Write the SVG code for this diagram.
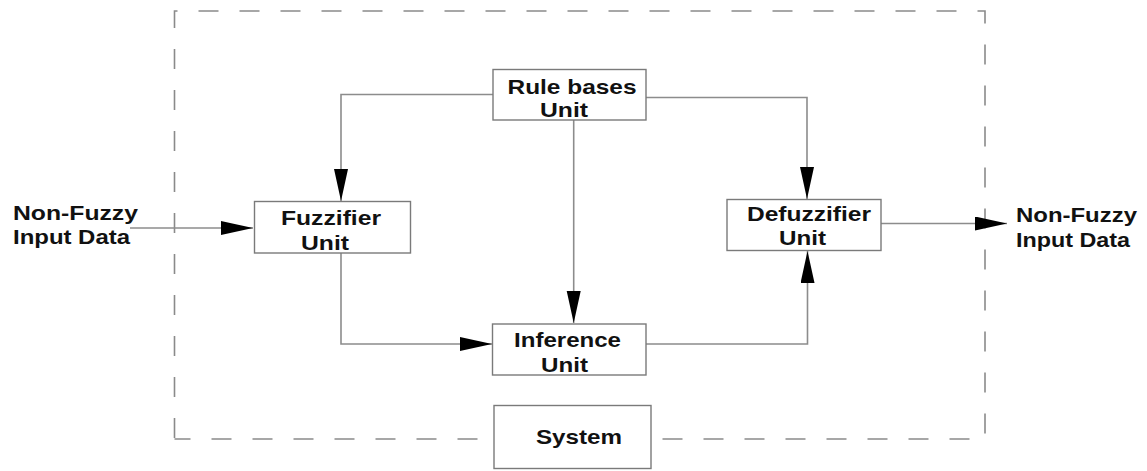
<svg xmlns="http://www.w3.org/2000/svg" width="1147" height="471" viewBox="0 0 1147 471">
  <style>
    .box { fill: #ffffff; stroke: #7a7a7a; stroke-width: 1.4; }
    .wire { fill: none; stroke: #8c8c8c; stroke-width: 1.6; }
    .frame { fill: none; stroke: #8a8a8a; stroke-width: 1.6; stroke-dasharray: 20 21; }
    .lbl { font-family: "Liberation Sans", Arial, sans-serif; font-weight: bold; font-size: 21px; fill: #111111; }
  </style>
  <defs>
    <marker id="arrow" markerUnits="userSpaceOnUse" markerWidth="34" markerHeight="16" refX="32" refY="7" orient="auto">
      <path d="M0,0 L32,7 L0,14 Z" fill="#000000"/>
    </marker>
  </defs>

  <rect width="1147" height="471" fill="#ffffff"/>

  <!-- system boundary -->
  <g id="boundary">
    <path class="frame" d="M174.5,439 V11 H985 V439 Z" stroke-dashoffset="-1"/>
  </g>

  <!-- connectors -->
  <g id="connectors">
    <path class="wire" d="M130,228 H253" marker-end="url(#arrow)"/>
    <path class="wire" d="M493,94.5 H341 V201" marker-end="url(#arrow)"/>
    <path class="wire" d="M646,97.5 H807 V199" marker-end="url(#arrow)"/>
    <path class="wire" d="M573.7,120 V323" marker-end="url(#arrow)"/>
    <path class="wire" d="M341,253 V344 H492" marker-end="url(#arrow)"/>
    <path class="wire" d="M646,344 H807.5 V251" marker-end="url(#arrow)"/>
    <path class="wire" d="M881,223.5 H1007" marker-end="url(#arrow)"/>
  </g>

  <!-- external input / output labels -->
  <g id="input-label">
    <text class="lbl" x="13" y="219.5" textLength="125" lengthAdjust="spacingAndGlyphs">Non-Fuzzy</text>
    <text class="lbl" x="13" y="244" textLength="117" lengthAdjust="spacingAndGlyphs">Input Data</text>
  </g>
  <g id="output-label">
    <text class="lbl" x="1016" y="222" textLength="121" lengthAdjust="spacingAndGlyphs">Non-Fuzzy</text>
    <text class="lbl" x="1016" y="247" textLength="114" lengthAdjust="spacingAndGlyphs">Input Data</text>
  </g>

  <g id="rule-bases">
    <rect class="box" x="493" y="69.5" width="153" height="50.5"/>
    <text class="lbl" x="507.5" y="93.5" textLength="129" lengthAdjust="spacingAndGlyphs">Rule bases</text>
    <text class="lbl" x="540" y="117" textLength="48" lengthAdjust="spacingAndGlyphs">Unit</text>
  </g>

  <g id="fuzzifier">
    <rect class="box" x="254.5" y="201.5" width="156" height="51.5"/>
    <text class="lbl" x="281" y="225" textLength="100" lengthAdjust="spacingAndGlyphs">Fuzzifier</text>
    <text class="lbl" x="301" y="249.5" textLength="48" lengthAdjust="spacingAndGlyphs">Unit</text>
  </g>

  <g id="defuzzifier">
    <rect class="box" x="727" y="199.5" width="154" height="51"/>
    <text class="lbl" x="747" y="220.5" textLength="124" lengthAdjust="spacingAndGlyphs">Defuzzifier</text>
    <text class="lbl" x="779" y="245" textLength="47" lengthAdjust="spacingAndGlyphs">Unit</text>
  </g>

  <g id="inference">
    <rect class="box" x="492.5" y="324" width="153.5" height="51"/>
    <text class="lbl" x="514" y="346.5" textLength="107" lengthAdjust="spacingAndGlyphs">Inference</text>
    <text class="lbl" x="541" y="371.5" textLength="47" lengthAdjust="spacingAndGlyphs">Unit</text>
  </g>

  <g id="system">
    <rect class="box" x="494" y="405.5" width="157" height="63"/>
    <text class="lbl" x="536" y="443.5" textLength="86" lengthAdjust="spacingAndGlyphs">System</text>
  </g>
</svg>
